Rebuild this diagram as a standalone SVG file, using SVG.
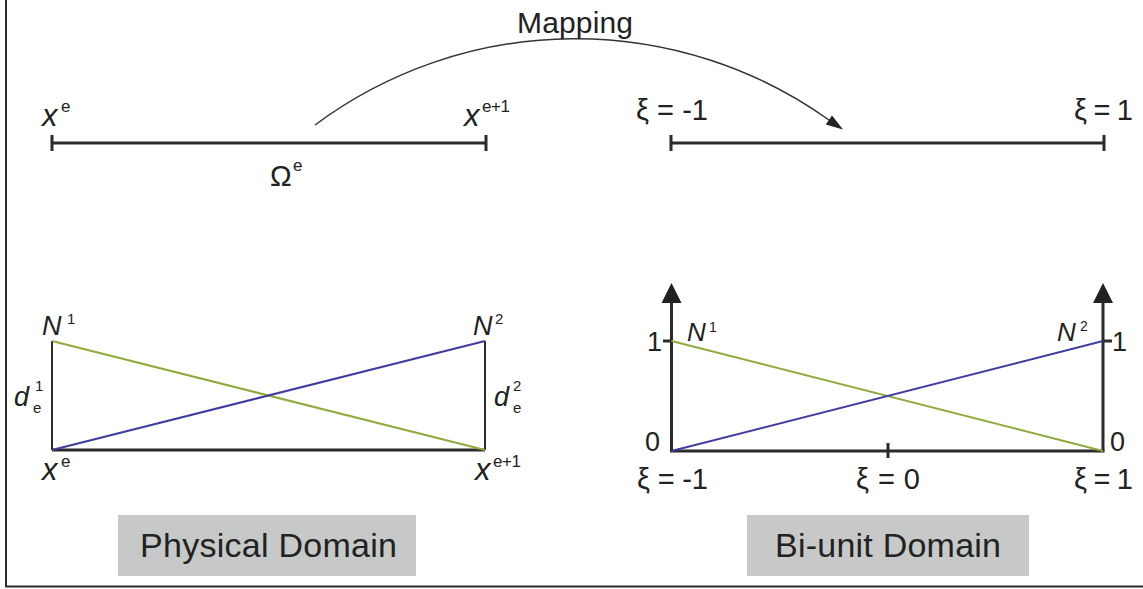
<svg xmlns="http://www.w3.org/2000/svg" width="1143" height="589" viewBox="0 0 1143 589">
<style>
text{font-family:"Liberation Sans",Arial,sans-serif;fill:#222}
.it{font-style:italic}
.bar{stroke:#2b2b2b;stroke-width:3;fill:none}
.thin{stroke:#2b2b2b;stroke-width:2;fill:none}
.green{stroke:#8eab3c;stroke-width:2;fill:none}
.blue{stroke:#3f3d9f;stroke-width:2;fill:none}
.box{fill:#c7c9c8}
.lbl{font-size:34px}
.xi{font-size:29px}
.num{font-size:27px}
.sup{font-size:17px}
</style>
<rect width="1143" height="589" fill="#fff"/>
<line x1="6" y1="0" x2="6" y2="587" class="thin"/>
<line x1="5" y1="586.5" x2="1143" y2="586.5" class="thin"/>

<g id="physical-element">
<line x1="52" y1="143" x2="486" y2="143" class="bar"/>
<line x1="52" y1="135" x2="52" y2="151" class="bar"/>
<line x1="486" y1="135" x2="486" y2="151" class="bar"/>
<text x="42" y="126" class="it" font-size="31">x</text>
<text x="61" y="112" class="sup">e</text>
<text x="464" y="126" class="it" font-size="31">x</text>
<text x="482" y="112" class="sup" textLength="28">e+1</text>
<text x="270" y="186" font-size="29">Ω</text>
<text x="293" y="171" class="sup">e</text>
</g>

<g id="biunit-element">
<line x1="671" y1="143" x2="1104" y2="143" class="bar"/>
<line x1="671" y1="135" x2="671" y2="151" class="bar"/>
<line x1="1104" y1="135" x2="1104" y2="151" class="bar"/>
<text x="636" y="120" class="xi" textLength="72">ξ = -1</text>
<text x="1074" y="120" class="xi" textLength="59">ξ = 1</text>
</g>

<g id="connectors">
<path d="M315,125 A436,436 0 0 1 829,120" stroke="#333" stroke-width="1.5" fill="none"/>
<polygon points="843,129.5 825.8,124.6 832,115.4" fill="#222"/>
<text x="517" y="33" font-size="30" textLength="116">Mapping</text>
</g>

<g id="physical-shape">
<line x1="52" y1="341" x2="52" y2="450" class="thin"/>
<line x1="485" y1="341" x2="485" y2="450" class="thin"/>
<line x1="52" y1="450" x2="485" y2="450" class="bar"/>
<line x1="52" y1="341" x2="485" y2="450" class="green"/>
<line x1="52" y1="450" x2="485" y2="341" class="blue"/>
<text x="42" y="335" class="it" font-size="27">N</text>
<text x="67" y="324" font-size="15">1</text>
<text x="473" y="335" class="it" font-size="27">N</text>
<text x="495" y="324" font-size="15">2</text>
<text x="14" y="406" class="it" font-size="27">d</text>
<text x="35" y="391" font-size="15">1</text>
<text x="33" y="413" font-size="15">e</text>
<text x="494" y="406" class="it" font-size="27">d</text>
<text x="513" y="391" font-size="15">2</text>
<text x="513" y="413" font-size="15">e</text>
<text x="42" y="480" class="it" font-size="31">x</text>
<text x="61" y="467" class="sup">e</text>
<text x="475" y="480" class="it" font-size="31">x</text>
<text x="493" y="467" class="sup" textLength="28">e+1</text>
</g>

<g id="biunit-shape">
<line x1="671.5" y1="451" x2="671.5" y2="300" class="bar"/>
<polygon points="671.5,283 661.5,303 681.5,303" fill="#222"/>
<line x1="1103" y1="451" x2="1103" y2="300" class="bar"/>
<polygon points="1103,283 1093,303 1113,303" fill="#222"/>
<line x1="670" y1="451" x2="1104.5" y2="451" class="bar"/>
<line x1="888" y1="443" x2="888" y2="458" class="bar"/>
<line x1="663" y1="341" x2="671" y2="341" class="bar"/>
<line x1="1103" y1="341" x2="1112" y2="341" class="bar"/>
<line x1="671.5" y1="341" x2="1103" y2="451" class="green"/>
<line x1="671.5" y1="451" x2="1103" y2="341" class="blue"/>
<text x="687" y="341" class="it" font-size="26">N</text>
<text x="709" y="332" font-size="14">1</text>
<text x="1057" y="341" class="it" font-size="26">N</text>
<text x="1080" y="331" font-size="14">2</text>
<text x="647" y="351" class="num">1</text>
<text x="1112" y="351" class="num">1</text>
<text x="645" y="451" class="num">0</text>
<text x="1110" y="451" class="num">0</text>
<text x="637" y="489" class="xi" textLength="71">ξ = -1</text>
<text x="856" y="489" class="xi" textLength="64">ξ = 0</text>
<text x="1074" y="489" class="xi" textLength="59">ξ = 1</text>
</g>

<g id="physical-label">
<rect x="118" y="515" width="298" height="61" class="box"/>
<text x="140" y="557" class="lbl" textLength="257">Physical Domain</text>
</g>

<g id="biunit-label">
<rect x="747" y="515" width="282" height="61" class="box"/>
<text x="775" y="557" class="lbl" textLength="226">Bi-unit Domain</text>
</g>
</svg>
